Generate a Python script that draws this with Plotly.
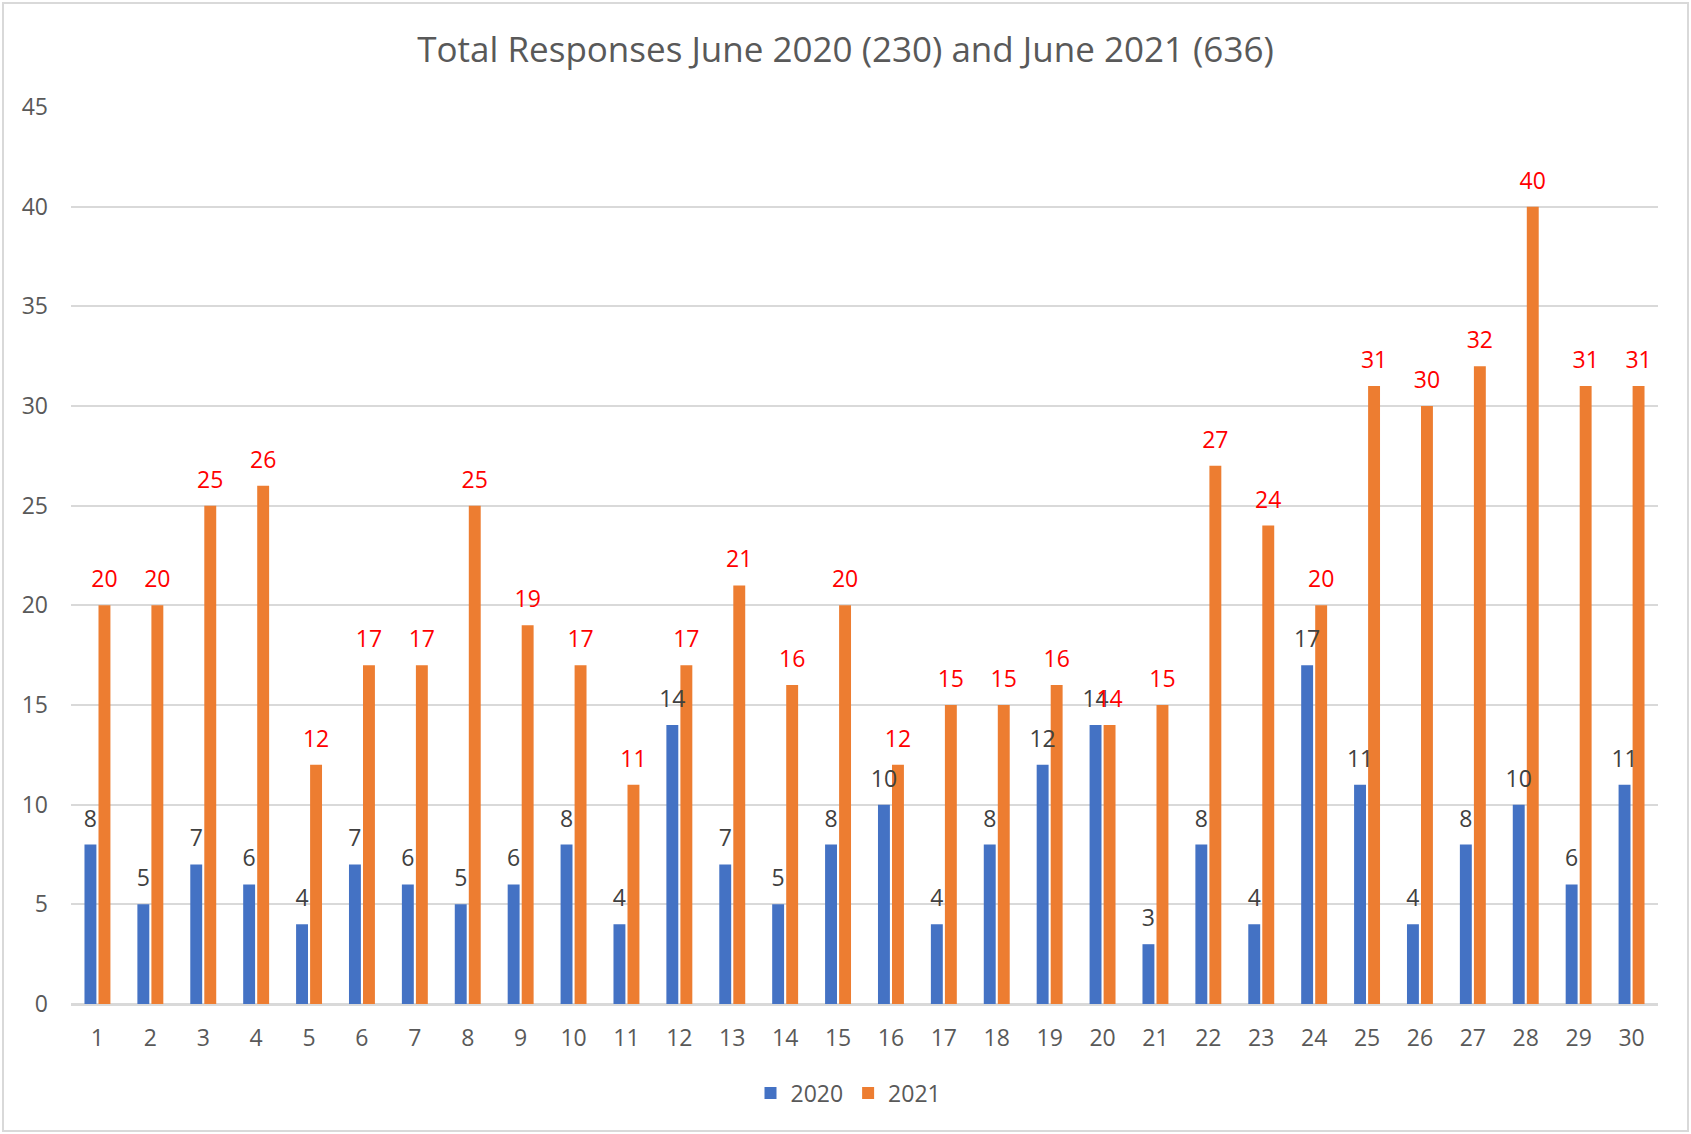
import plotly.graph_objects as go

days = [str(d) for d in range(1, 31)]
y2020 = [8, 5, 7, 6, 4, 7, 6, 5, 6, 8, 4, 14, 7, 5, 8, 10, 4, 8, 12, 14, 3, 8, 4, 17, 11, 4, 8, 10, 6, 11]
y2021 = [20, 20, 25, 26, 12, 17, 17, 25, 19, 17, 11, 17, 21, 16, 20, 12, 15, 15, 16, 14, 15, 27, 24, 20, 31, 30, 32, 40, 31, 31]
title = "Total Responses June 2020 (230) and June 2021 (636)"
ytick_vals = [0, 5, 10, 15, 20, 25, 30, 35, 40, 45]

FONT = "Open Sans"
W, H = 1691, 1134
L, R, T, B = 71, 33, 107, 130
PW, PH = W - L - R, H - T - B
BARGAP = 0.47
LABEL_SIZE = 23

fig = go.Figure()
fig.add_trace(go.Bar(
    x=days, y=y2020, name="2020", marker=dict(color="#4472C4", line=dict(width=0)),
    offsetgroup="a", hoverinfo="x+y",
))
fig.add_trace(go.Bar(
    x=days, y=y2021, name="2021", marker=dict(color="#ED7D31", line=dict(width=0)),
    offsetgroup="b", hoverinfo="x+y",
))
# data labels (scatter text aligned with the grouped bars)
fig.add_trace(go.Scatter(
    x=days, y=y2020, mode="markers+text", offsetgroup="a", showlegend=False,
    marker=dict(size=18, opacity=0), text=[str(v) for v in y2020],
    textposition="top center", textfont=dict(color="#404040", size=LABEL_SIZE, family=FONT),
    hoverinfo="skip", cliponaxis=False,
))
fig.add_trace(go.Scatter(
    x=days, y=y2021, mode="markers+text", offsetgroup="b", showlegend=False,
    marker=dict(size=18, opacity=0), text=[str(v) for v in y2021],
    textposition="top center", textfont=dict(color="#FF0000", size=LABEL_SIZE, family=FONT),
    hoverinfo="skip", cliponaxis=False,
))

fig.update_layout(
    width=W, height=H,
    margin=dict(l=L, r=R, t=T, b=B, autoexpand=False),
    paper_bgcolor="white", plot_bgcolor="white",
    font=dict(family=FONT, color="#595959", size=23),
    title=dict(text=title, x=0.5, xanchor="center", y=1 - 50 / H, yanchor="middle",
               font=dict(size=35, color="#595959", family=FONT)),
    barmode="group", bargap=BARGAP, bargroupgap=0.15,
    scattermode="group", scattergap=BARGAP,
    showlegend=True,
    legend=dict(orientation="h", x=0.5 - 16 / PW, xanchor="center", y=-(1093 - (H - B)) / PH, yanchor="middle",
                font=dict(size=23, color="#595959"), traceorder="normal",
                itemwidth=30),
    xaxis=dict(showgrid=False, showline=True, linecolor="#D9D9D9", linewidth=2,
               ticks="", tickfont=dict(size=23, color="#595959"), ticklabelstandoff=12),
    yaxis=dict(range=[0, 45], tickvals=ytick_vals, showgrid=True, gridcolor="#D9D9D9", gridwidth=2,
               zeroline=True, zerolinecolor="#D9D9D9", zerolinewidth=2, showline=False,
               ticks="", tickfont=dict(size=23, color="#595959"), ticklabelstandoff=22),
)

fig.add_shape(type="rect", xref="paper", yref="paper",
              x0=(3 - L) / PW, x1=(W - 3 - L) / PW,
              y0=-(H - 3 - (H - B)) / PH, y1=(H - B - 3) / PH,
              line=dict(color="#D9D9D9", width=2), fillcolor="rgba(0,0,0,0)", layer="below")

fig.write_html("out.html", config={"displayModeBar": False},
               post_script="document.body.style.margin='0';document.body.style.overflow='hidden';")
